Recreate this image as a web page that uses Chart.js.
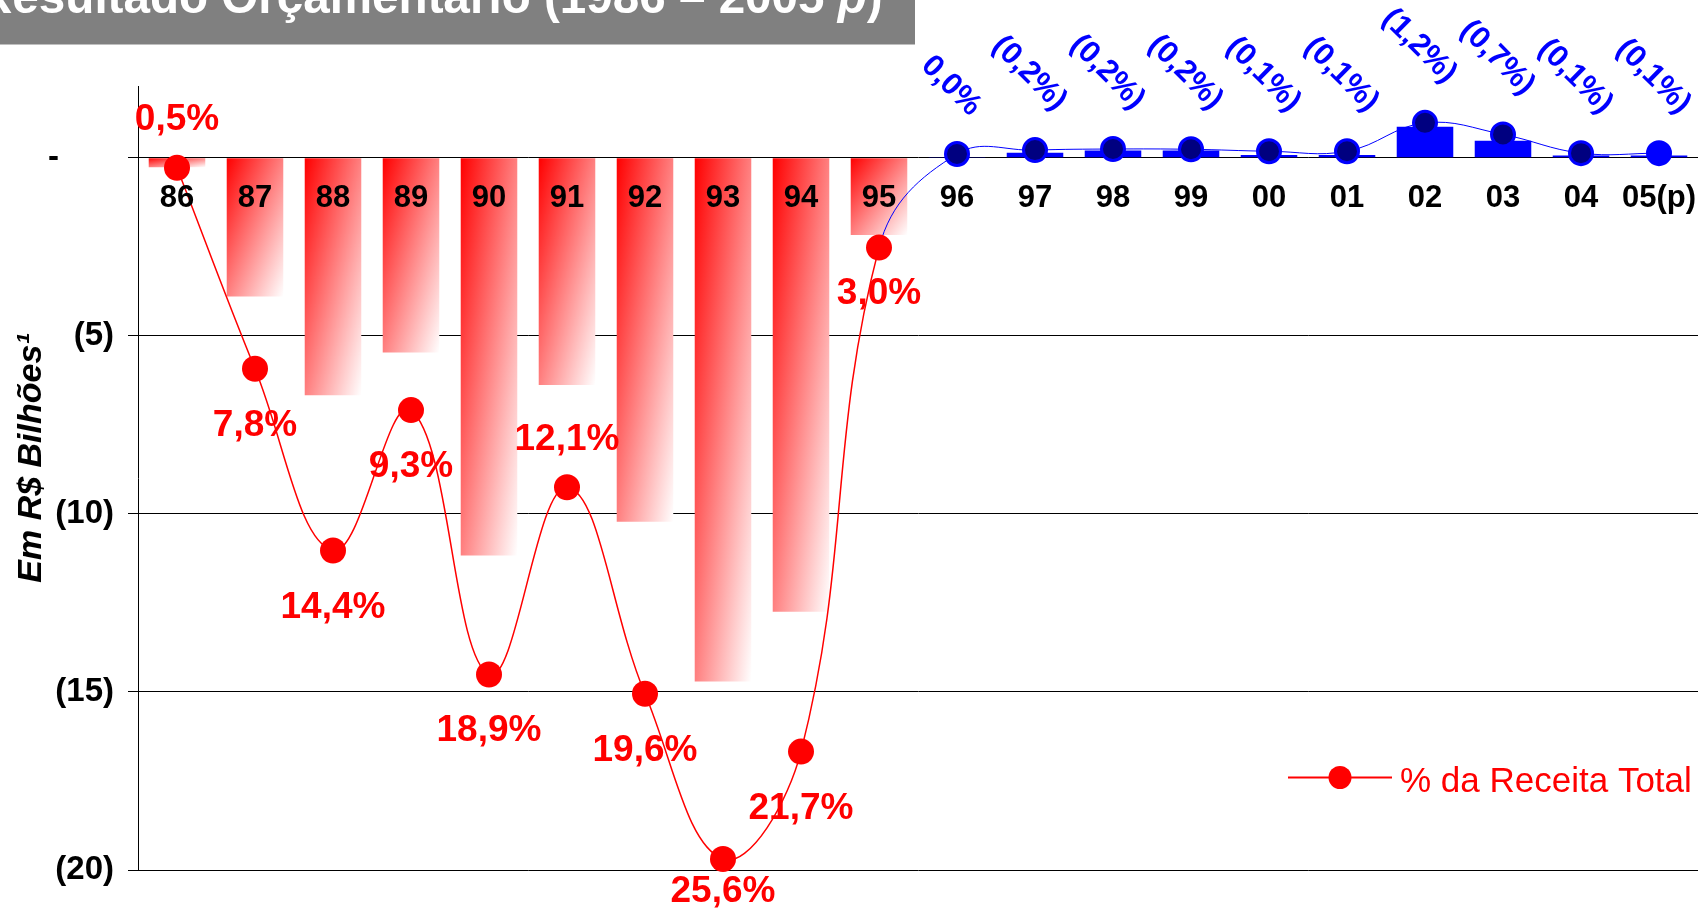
<!DOCTYPE html>
<html>
<head>
<meta charset="utf-8">
<script src="https://cdn.jsdelivr.net/npm/chart.js@4.4.0/dist/chart.umd.min.js"></script>
<style>
  html, body { margin: 0; padding: 0; background: #fff; }
  canvas { display: block; }
</style>
</head>
<body>
<canvas id="grafico" width="1700" height="908"></canvas>
<script>
// dados
const anos = ['86', '87', '88', '89', '90', '91', '92', '93', '94', '95',
              '96', '97', '98', '99', '00', '01', '02', '03', '04', '05(p)'];
// resultado orçamentário em R$ bilhões (negativo = déficit)
const resultado = [-0.27, -3.9, -6.67, -5.47, -11.17, -6.38, -10.22, -14.71, -12.75, -2.17,
                   0.02, 0.14, 0.2, 0.2, 0.08, 0.08, 0.87, 0.48, 0.06, 0.06];
// % da receita total (déficit positivo, superávit negativo)
const pctReceita = [0.5, 7.8, 14.4, 9.3, 18.9, 12.1, 19.6, 25.6, 21.7, 3.4,
                    0.0, -0.14, -0.18, -0.17, -0.1, -0.1, -1.13, -0.71, -0.03, -0.03];
const rotulosPct = ['0,5%', '7,8%', '14,4%', '9,3%', '18,9%', '12,1%', '19,6%', '25,6%', '21,7%', '3,0%',
                    '0,0%', '(0,2%)', '(0,2%)', '(0,2%)', '(0,1%)', '(0,1%)', '(1,2%)', '(0,7%)', '(0,1%)', '(0,1%)'];
const ticksY = [0, -5, -10, -15, -20];

const FONTE = '"Liberation Sans", Arial, sans-serif';
const VERMELHO = '#FF0000';
const AZUL = '#0000FF';
const LARGURA_BARRA = 0.725;
const IDX_SUPERAVIT = 10; // a partir de 96 os rótulos ficam azuis

// rótulos vermelhos acima do ponto (os outros ficam abaixo)
const rotuloAcima = [true, false, false, false, false, true, false, false, false, false];

Chart.defaults.font.family = FONTE;

// degradê diagonal vermelho -> branco, como no Excel
function corBarra(ctx) {
  const v = ctx.raw;
  if (v >= 0) return AZUL;
  const chart = ctx.chart;
  const sx = chart.scales.x, sy = chart.scales.y;
  if (!sx || !sy || !chart.chartArea) return VERMELHO;
  const passo = sx.getPixelForValue(1) - sx.getPixelForValue(0);
  const w = passo * LARGURA_BARRA;
  const esq = sx.getPixelForValue(ctx.dataIndex) - w / 2;
  const topo = sy.getPixelForValue(0);
  const h = sy.getPixelForValue(v) - topo;
  const k = 2 * w * h / (h * h + w * w);
  const g = chart.ctx.createLinearGradient(esq, topo, esq + h * k, topo + w * k);
  g.addColorStop(0, VERMELHO);
  g.addColorStop(1, '#FFFFFF');
  return g;
}

// título, eixo, legenda e rótulos dos pontos
const extras = {
  id: 'extras',
  afterDraw(chart) {
    const c = chart.ctx;
    const pontos = chart.getDatasetMeta(0).data;
    const y2 = chart.scales.y2;

    // === rótulos da linha ===
    pontos.forEach((p, i) => {
      const txt = rotulosPct[i];
      c.save();
      if (i < IDX_SUPERAVIT) {
        c.font = 'bold 37px ' + FONTE;
        c.fillStyle = VERMELHO;
        c.textAlign = 'center';
        c.textBaseline = 'alphabetic';
        // posição vertical pelo valor escrito no rótulo
        const yv = y2.getPixelForValue(parseFloat(txt.replace(',', '.')));
        const yb = rotuloAcima[i] ? yv - 37.5 : Math.min(yv + 67, 902);
        c.fillText(txt, p.x, yb);
      } else {
        c.font = 'bold 31px ' + FONTE;
        c.fillStyle = AZUL;
        const m = c.measureText(txt);
        const asc = m.actualBoundingBoxAscent, desc = m.actualBoundingBoxDescent;
        const altCaixa = (m.width + asc + desc) * Math.SQRT1_2;
        c.translate(p.x - 6, p.y - 33.5 - altCaixa / 2);
        c.rotate(Math.PI / 4);
        c.textAlign = 'center';
        c.textBaseline = 'alphabetic';
        c.fillText(txt, 0, (asc - desc) / 2);
      }
      c.restore();
    });

    // === título do eixo Y ===
    c.save();
    c.font = 'italic bold 34px ' + FONTE;
    c.fillStyle = '#000';
    const tituloY = 'Em R$ Bilhões¹';
    const mt = c.measureText(tituloY);
    c.translate(30, 458);
    c.rotate(-Math.PI / 2);
    c.textAlign = 'center';
    c.fillText(tituloY, 0, (mt.actualBoundingBoxAscent - mt.actualBoundingBoxDescent) / 2);
    c.restore();

    // === legenda ===
    c.save();
    c.strokeStyle = VERMELHO;
    c.lineWidth = 2;
    c.beginPath();
    c.moveTo(1288, 777.5);
    c.lineTo(1392, 777.5);
    c.stroke();
    c.fillStyle = VERMELHO;
    c.beginPath();
    c.arc(1340, 777.5, 11.5, 0, Math.PI * 2);
    c.fill();
    c.font = '35px ' + FONTE;
    c.textAlign = 'left';
    c.fillText('% da Receita Total', 1400, 791.5);
    c.restore();

    // === faixa do título (cortada no topo) ===
    c.save();
    c.fillStyle = '#808080';
    c.fillRect(0, 0, 915, 44.5);
    c.fillStyle = '#FFFFFF';
    c.textAlign = 'left';
    let x = -22;
    const base = 12.5;
    c.font = 'bold 47.6px ' + FONTE;
    const parte1 = 'Resultado Orçamentário (1986 – 2005 ';
    c.fillText(parte1, x, base);
    x += c.measureText(parte1).width;
    c.font = 'italic bold 47.6px ' + FONTE;
    c.fillText('p', x, base);
    x += c.measureText('p').width;
    c.font = 'bold 47.6px ' + FONTE;
    c.fillText(')', x, base);
    c.restore();
  }
};

new Chart(document.getElementById('grafico'), {
  type: 'bar',
  data: {
    labels: anos,
    datasets: [
      {
        type: 'line',
        label: '% da Receita Total',
        data: pctReceita,
        yAxisID: 'y2',
        order: 0,
        tension: 0.4,
        clip: false,
        borderColor: VERMELHO,
        borderWidth: 1.5,
        segment: {
          borderColor: s => s.p0DataIndex >= 9 ? AZUL : VERMELHO,
          borderWidth: s => s.p0DataIndex >= 9 ? 1 : 1.5
        },
        pointRadius: ctx => ctx.dataIndex >= IDX_SUPERAVIT ? 11.5 : 13,
        pointBackgroundColor: ctx => ctx.dataIndex < IDX_SUPERAVIT ? VERMELHO
          : (ctx.dataIndex === anos.length - 1 ? AZUL : '#000080'),
        pointBorderColor: ctx => ctx.dataIndex < IDX_SUPERAVIT ? VERMELHO : AZUL,
        pointBorderWidth: ctx => ctx.dataIndex < IDX_SUPERAVIT ? 0 : 3
      },
      {
        type: 'bar',
        label: 'Resultado',
        data: resultado,
        yAxisID: 'y',
        order: 1,
        backgroundColor: corBarra,
        borderWidth: 0,
        categoryPercentage: 1,
        barPercentage: LARGURA_BARRA
      }
    ]
  },
  options: {
    responsive: false,
    animation: false,
    layout: { autoPadding: false, padding: { top: 86.5, right: 2, bottom: 38, left: 0 } },
    plugins: {
      legend: { display: false },
      tooltip: { enabled: false }
    },
    scales: {
      x: {
        type: 'category',
        position: { y: 0 },
        offset: true,
        afterFit: s => { s.paddingLeft = 0; s.paddingRight = 0; },
        // marcas invisíveis só para afastar os rótulos da linha do zero
        grid: { display: true, drawOnChartArea: false, drawTicks: true, tickLength: 22, color: 'rgba(0,0,0,0)' },
        border: { display: false },
        ticks: {
          z: 1,
          autoSkip: false,
          maxRotation: 0,
          padding: 0,
          color: '#000',
          font: { size: 31, weight: 'bold' }
        }
      },
      y: {
        position: 'left',
        min: -20,
        max: 2,
        afterFit: s => { s.width = 138; },
        afterBuildTicks: s => { s.ticks = ticksY.map(v => ({ value: v })); },
        grid: { color: '#000', lineWidth: 1, tickLength: 10, drawTicks: true },
        border: { display: true, color: '#000', width: 1 },
        ticks: {
          padding: 14,
          color: '#000',
          font: { size: 33, weight: 'bold' },
          callback: v => v === 0 ? '-      ' : '(' + Math.abs(v) + ')'
        }
      },
      y2: {
        display: false,
        reverse: true,
        min: -2.45,
        max: 26
      }
    }
  },
  plugins: [extras]
});
</script>
</body>
</html>
